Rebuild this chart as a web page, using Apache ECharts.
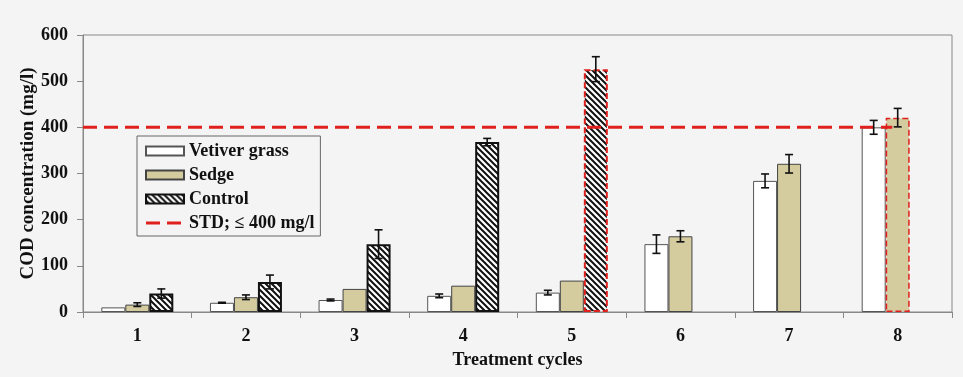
<!DOCTYPE html>
<html><head><meta charset="utf-8">
<script src="https://cdn.jsdelivr.net/npm/echarts@6/dist/echarts.min.js"></script>
<style>html,body{margin:0;padding:0;background:#f4f4f4}#c{width:963px;height:377px}</style>
</head><body><div id="c"></div>
<script>
// ---- data ----
const categories = ['1', '2', '3', '4', '5', '6', '7', '8'];
const vetiver    = [10, 20, 26, 35, 42, 147, 284, 400];
const vetiverErr = [0, 1, 2, 4, 5, 20, 15, 15];
const sedge      = [16, 32, 50, 57, 68, 164, 321, 421];
const sedgeErr   = [4, 5, 0, 0, 0, 12, 20, 20];
const control    = [40, 65, 147, 368, 526, null, null, null];
const controlErr = [10, 15, 31, 8, 27, null, null, null];
const stdLimit = 400;
const stdSpan = [0, 7.45];           // extent of the STD line along the category scale
const redOutlineControl = [4];        // indices with red dashed outline
const redOutlineSedge = [7];
const yMin = 0, yMax = 600, yStep = 100;

// ---- styles ----
const FONT = '"Liberation Serif", "Times New Roman", serif';
const RED = '#e0201c';
const BARW = 24;

function hatch() {
  const s = 6;
  const c = document.createElement('canvas');
  c.width = s; c.height = s;
  const g = c.getContext('2d');
  g.fillStyle = '#ffffff'; g.fillRect(0, 0, s, s);
  g.strokeStyle = '#111'; g.lineWidth = 2;
  g.beginPath();
  g.moveTo(-s, -s); g.lineTo(2 * s, 2 * s);
  g.moveTo(-s, 0); g.lineTo(s, 2 * s);
  g.moveTo(0, -s); g.lineTo(2 * s, s);
  g.stroke();
  return c;
}
const hatchFill = { image: hatch(), repeat: 'repeat' };

function barData(vals, redIdx, bw) {
  return vals.map((v, i) => redIdx.includes(i)
    ? { value: v, itemStyle: { borderColor: RED, borderType: [6, 3], borderWidth: bw } }
    : v);
}
function errData(vals, errs) {
  return vals.map((v, i) => [i, v, errs[i]]).filter(d => d[1] != null && d[2]);
}
function errSeries(name, vals, errs, slot) {
  return {
    type: 'custom', name: name + ' err', z: 10, silent: true,
    data: errData(vals, errs),
    encode: { x: 0, y: 1 },
    renderItem: function (params, api) {
      const x = api.value(0), v = api.value(1), e = api.value(2);
      const top = api.coord([x, v + e]);
      const bot = api.coord([x, v - e]);
      const cx = top[0] + slot * BARW;
      const cap = 4;
      const st = { stroke: '#111', lineWidth: 1.6 };
      return { type: 'group', children: [
        { type: 'line', shape: { x1: cx, y1: top[1], x2: cx, y2: bot[1] }, style: st },
        { type: 'line', shape: { x1: cx - cap, y1: top[1], x2: cx + cap, y2: top[1] }, style: st },
        { type: 'line', shape: { x1: cx - cap, y1: bot[1], x2: cx + cap, y2: bot[1] }, style: st }
      ] };
    }
  };
}

const chart = echarts.init(document.getElementById('c'), null, { renderer: 'canvas' });
const labelStyle = { fontFamily: FONT, fontWeight: 'bold', fontSize: 18, color: '#111' };
chart.setOption({
  backgroundColor: '#f4f4f4',
  animation: false,
  grid: { left: 83, right: 11, top: 35, bottom: 65, show: true, borderColor: '#888', borderWidth: 1 },
  legend: {
    orient: 'vertical', left: 137, top: 136,
    padding: [6, 6, 4, 8], itemGap: 6,
    itemWidth: 38, itemHeight: 9,
    borderColor: '#666', borderWidth: 1,
    textStyle: { fontFamily: FONT, fontWeight: 'bold', fontSize: 18, color: '#111', lineHeight: 18 },
    data: [
      { name: 'Vetiver grass', icon: 'rect' },
      { name: 'Sedge', icon: 'rect' },
      { name: 'Control', icon: 'rect' },
      { name: 'STD; \u2264 400 mg/l',
        icon: 'path://M0,0 L0,0 M0,3 H14 V6 H0 Z M21,3 H35 V6 H21 Z M38,9 L38,9',
        itemStyle: { color: RED, borderWidth: 0 } }
    ]
  },
  xAxis: [{
    type: 'category', data: categories,
    axisLine: { lineStyle: { color: '#888' } },
    axisTick: { show: true, length: 6, lineStyle: { color: '#888' } },
    axisLabel: Object.assign({ margin: 15 }, labelStyle),
    name: 'Treatment cycles', nameLocation: 'middle', nameGap: 39,
    nameTextStyle: labelStyle
  }, {
    type: 'value', min: 0, max: categories.length, show: false
  }],
  yAxis: {
    type: 'value', min: yMin, max: yMax, interval: yStep,
    axisLine: { show: true, lineStyle: { color: '#888' } },
    axisTick: { show: true, length: 6, lineStyle: { color: '#888' } },
    splitLine: { show: false },
    axisLabel: Object.assign({ margin: 15 }, labelStyle),
    name: 'COD concentration (mg/l)', nameLocation: 'middle', nameGap: 45,
    nameMoveOverlap: false,
    nameTextStyle: Object.assign({}, labelStyle, { fontSize: 19 })
  },
  series: [
    { type: 'bar', name: 'Vetiver grass', barWidth: BARW, barGap: '0%',
      itemStyle: { color: '#ffffff', borderColor: '#555', borderWidth: 1 },
      data: barData(vetiver, [], 2) },
    { type: 'bar', name: 'Sedge', barWidth: BARW, barGap: '0%',
      itemStyle: { color: '#d4cb9f', borderColor: '#444', borderWidth: 1 },
      data: barData(sedge, redOutlineSedge, 1.5) },
    { type: 'bar', name: 'Control', barWidth: BARW, barGap: '0%',
      itemStyle: { color: hatchFill, borderColor: '#111', borderWidth: 2 },
      data: barData(control, redOutlineControl, 2) },
    { type: 'line', name: 'STD; \u2264 400 mg/l', xAxisIndex: 1, symbol: 'none', z: 5,
      lineStyle: { color: RED, width: 3, type: [14, 7] },
      itemStyle: { color: RED },
      data: stdSpan.map(x => [x, stdLimit]) },
    errSeries('Vetiver grass', vetiver, vetiverErr, -1),
    errSeries('Sedge', sedge, sedgeErr, 0),
    errSeries('Control', control, controlErr, 1)
  ]
});
</script></body></html>
